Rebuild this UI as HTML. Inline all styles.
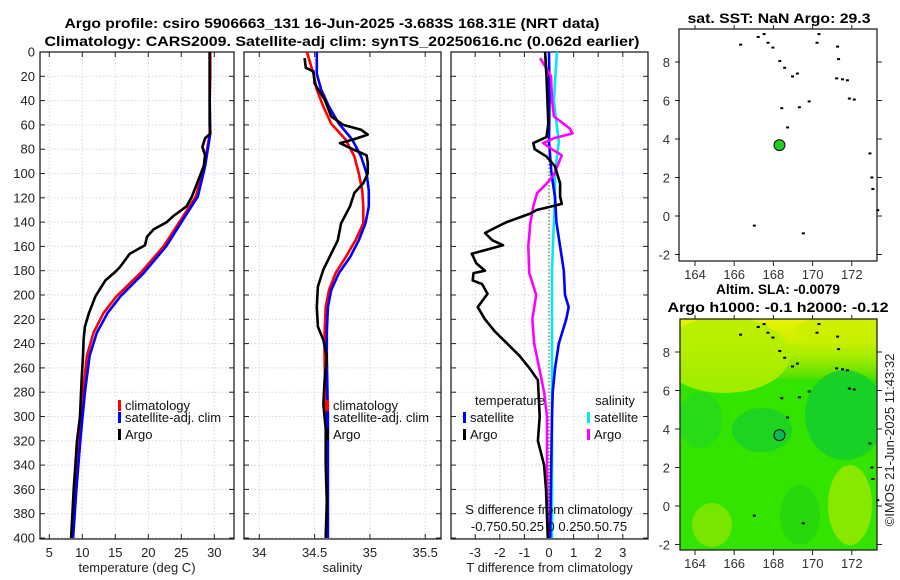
<!DOCTYPE html>
<html><head><meta charset="utf-8"><style>
html,body{margin:0;padding:0;background:#fff;}
svg{display:block;font-family:"Liberation Sans","DejaVu Sans",sans-serif;}
</style></head><body>
<svg id="fig" width="900" height="580" viewBox="0 0 900 580" xmlns="http://www.w3.org/2000/svg">
<defs>
<clipPath id="c1"><rect x="40" y="52" width="194" height="487"/></clipPath>
<clipPath id="c2"><rect x="244" y="52" width="197" height="487"/></clipPath>
<clipPath id="c3"><rect x="451" y="52" width="197" height="487"/></clipPath>
<clipPath id="cm2"><rect x="680" y="319" width="197" height="231"/></clipPath>
<linearGradient id="topg" x1="0" y1="0" x2="0" y2="1">
<stop offset="0" stop-color="#e8f200"/><stop offset="0.35" stop-color="#cdf000"/><stop offset="0.7" stop-color="#98ea00"/><stop offset="1" stop-color="#4ee000"/>
</linearGradient>
</defs>
<g font-weight="bold" font-size="14" text-anchor="middle" fill="#000">
<text x="332" y="28" textLength="535" lengthAdjust="spacingAndGlyphs">Argo profile: csiro 5906663_131 16-Jun-2025 -3.683S 168.31E (NRT data)</text>
<text x="342" y="46" textLength="595" lengthAdjust="spacingAndGlyphs">Climatology: CARS2009. Satellite-adj clim: synTS_20250616.nc (0.062d earlier)</text>
</g>
<g id="panels"></g>
<g id="maps"></g>
<text transform="translate(894,440) rotate(-90)" text-anchor="middle" font-size="13" fill="#222">©IMOS 21-Jun-2025 11:43:32</text>
</svg>
<script>
// ---- data ----
const depthTicks=[0,20,40,60,80,100,120,140,160,180,200,220,240,260,280,300,320,340,360,380,400];
const tTicks=[5,10,15,20,25,30];
const sTicks=[34,34.5,35,35.5];
const dTicks=[-3,-2,-1,0,1,2,3];
const tDepth=[0,20,40,60,67,71,78,85,94,105,119,127,131,135,140,146,152,159,166,177,181,188,201,215,226,237,250,270,300,320,360,400];
const tArgo=[29.3,29.3,29.3,29.3,29.4,28.6,28.2,28.6,28.4,27.6,26.6,25.8,24.8,23.8,22.8,20.8,19.8,19.5,17.2,15.7,15.0,13.5,12.0,11.0,10.4,10.2,10.1,9.9,9.65,9.2,8.7,8.3];
const climDepth=[0,20,40,67,94,119,135,160,182,201,215,231,250,280,320,360,400];
const tClim=[29.4,29.4,29.3,29.3,28.5,27.2,25.3,22.3,18.8,15.2,13.2,11.7,10.7,10.1,9.5,9.0,8.4];
const tSat=[29.3,29.3,29.3,29.4,28.6,27.5,25.6,22.7,19.3,15.8,13.8,12.2,11.1,10.4,9.7,9.1,8.6];
const sDepth=[5,13,16,26,39,53,60,64,68,72,75,79,85,91,100,108,116,127,141,155,166,179,193,210,226,237,251,270,290,310,340,370,400];
const sArgo=[34.41,34.42,34.49,34.5,34.59,34.65,34.76,34.92,34.98,34.85,34.73,34.82,34.97,34.98,34.98,34.94,34.86,34.82,34.74,34.71,34.65,34.58,34.53,34.52,34.53,34.58,34.61,34.59,34.58,34.6,34.6,34.61,34.6];
const scDepth=[0,18,31,45,59,72,86,100,114,127,141,155,169,182,196,210,231,251,300,350,400];
const sClim=[34.43,34.49,34.52,34.58,34.65,34.78,34.86,34.9,34.93,34.94,34.94,34.87,34.78,34.69,34.63,34.6,34.59,34.59,34.6,34.61,34.61];
const sSat=[34.52,34.52,34.56,34.63,34.72,34.84,34.92,34.97,34.99,34.99,34.96,34.9,34.82,34.72,34.65,34.62,34.61,34.61,34.62,34.62,34.62];
const dDepth=[0,20,59,70,75,80,86,94,108,119,125,130,133,140,144,149,155,159,166,174,180,182,188,191,199,210,220,230,240,250,260,270,300,320,340,360,400];
const dtArgo=[-0.16,-0.1,-0.03,-0.1,-0.64,-0.58,-0.1,0.24,0.45,0.45,0.52,-0.5,-0.77,-1.72,-2.13,-2.6,-2.3,-1.87,-3.14,-2.95,-2.6,-3.07,-3.1,-2.72,-2.5,-2.9,-2.6,-2.2,-1.7,-1.2,-0.8,-0.45,-0.38,-0.45,-0.2,-0.12,-0.05];
const dsDepth=[0,40,74,100,120,140,160,180,200,210,220,240,260,280,300,350,400];
const dtSat=[0.0,0.02,0.0,0.1,0.25,0.3,0.45,0.6,0.65,0.8,0.7,0.4,0.25,0.15,0.12,0.08,0.05];
const dsSat=[0.08,0.05,0.1,0.06,0.06,0.05,0.04,0.03,0.03,0.03,0.03,0.03,0.03,0.03,0.03,0.03,0.03];
const mDepth=[5,20,39,53,63,67,71,75,80,85,91,101,108,116,127,141,160,182,200,220,240,260,280,300,340,400];
const dsArgo=[-0.09,0.02,0.03,0.05,0.21,0.24,0.05,-0.06,0.03,0.13,0.1,0.05,-0.02,-0.12,-0.16,-0.19,-0.21,-0.2,-0.13,-0.17,-0.15,-0.1,-0.05,-0.02,-0.02,-0.01];
const lonTicks=[164,166,168,170,172];
const latTicks=[-2,0,2,4,6,8];
const argoLon=168.31, argoLat=3.683;

// ---- scales ----
const NS='http://www.w3.org/2000/svg';
const yD=d=>52+d*1.215;
const xT=t=>49.3+(t-5)*6.6;
const xS=s=>259.3+(s-34)*110.6;
const xDT=d=>549+d*24.6;
const xDS=d=>549+d*98.4;
const xLon=l=>695+(l-164)*19.6;
const yLat1=l=>216-l*19.25;
const yLat2=l=>506-l*19.25;

function el(tag,attrs,parent){const e=document.createElementNS(NS,tag);for(const k in attrs)e.setAttribute(k,attrs[k]);parent.appendChild(e);return e;}
function txt(parent,x,y,s,size,anchor,fill){const t=el('text',{x:x,y:y,'font-size':size,'text-anchor':anchor||'middle',fill:fill||'#222'},parent);t.textContent=s;return t;}

const panels=document.getElementById('panels');
function panel(name,x0,x1,xticks,xf,labels,xlabel,clip){
  const g=el('g',{},panels);
  
  
  xticks.forEach(v=>{const x=xf(v);const l=el('line',{x1:x,x2:x,y1:52,y2:539,stroke:'#d2d6ec','stroke-width':1,'stroke-dasharray':'1.5,2'},g);
    });
  depthTicks.forEach(d=>{const y=yD(d);const l=el('line',{x1:x0,x2:x1,y1:y,y2:y,stroke:'#d2d6ec','stroke-width':1,'stroke-dasharray':'1.5,2'},g);
    });
  xticks.forEach((v,i)=>{const x=xf(v);
    el('line',{x1:x,x2:x,y1:539,y2:534,stroke:'#222'},g);el('line',{x1:x,x2:x,y1:52,y2:57,stroke:'#222'},g);
    if(labels){const t=txt(g,x,557,labels[i],13);}});
  depthTicks.forEach(d=>{const y=yD(d);el('line',{x1:x0,x2:x0+5,y1:y,y2:y,stroke:'#222'},g);el('line',{x1:x1,x2:x1-5,y1:y,y2:y,stroke:'#222'},g);});
  const b=el('rect',{x:x0,y:52,width:x1-x0,height:487,fill:'none',stroke:'#222','stroke-width':1.3},g);
  
  const xl=txt(g,(x0+x1)/2,572,xlabel,13);
  
  const lg=el('g',{'clip-path':'url(#'+clip+')'},g);
  return lg;
}
function line(parent,xs,ds,xf,color,name,w){
  const pts=xs.map((v,i)=>xf(v).toFixed(1)+','+yD(ds[i]).toFixed(1)).join(' ');
  const p=el('polyline',{points:pts,fill:'none',stroke:color,'stroke-width':w||2.6,'stroke-linejoin':'round'},parent);
  
  
  return p;
}
function legend(parent,x,y,color,label){
  const g=el('g',{},parent);
  
  
  el('rect',{x:x,y:y-10,width:3,height:11,fill:color},g);
  txt(g,x+7,y,label,13,'start','#111');
}

// panel 1
const g1=panel('temperature-panel',40,234,tTicks,xT,tTicks.map(String),'temperature (deg C)','c1');
const p1=g1.parentNode;
depthTicks.forEach(d=>{const t=txt(p1,35,yD(d)+4.5,String(d),13,'end');});
line(g1,tClim,climDepth,xT,'#f00','temp-climatology-line');
line(g1,tSat,climDepth,xT,'#0000ff','temp-satellite-line');
line(g1,tArgo,tDepth,xT,'#000','temp-argo-line');
legend(p1,118,410,'#f00','climatology');
legend(p1,118,422,'#00f','satellite-adj. clim');
legend(p1,118,439,'#000','Argo');

// panel 2
const g2=panel('salinity-panel',244,441,sTicks,xS,sTicks.map(String),'salinity','c2');
const p2=g2.parentNode;
line(g2,sClim,scDepth,xS,'#f00','sal-climatology-line');
line(g2,sSat,scDepth,xS,'#0000ff','sal-satellite-line');
line(g2,sArgo,sDepth,xS,'#000','sal-argo-line');
legend(p2,326,410,'#f00','climatology');
legend(p2,326,422,'#00f','satellite-adj. clim');
legend(p2,326,439,'#000','Argo');

// panel 3
const g3=panel('difference-panel',451,648,dTicks,xDT,dTicks.map(String),'T difference from climatology','c3');
const p3=g3.parentNode;
const z=el('line',{x1:549,x2:549,y1:52,y2:539,stroke:'#556b2f','stroke-width':1.2,'stroke-dasharray':'1.5,2'},g3);

line(g3,dsSat,dsDepth,xDS,'#00e8f0','sal-diff-satellite-line');
line(g3,dtSat,dsDepth,xDT,'#0000ff','temp-diff-satellite-line');
line(g3,dsArgo,mDepth,xDS,'#ff00ff','sal-diff-argo-line');
line(g3,dtArgo,dDepth,xDT,'#000','temp-diff-argo-line');
txt(p3,510,405,'temperature',13,'middle','#111');
txt(p3,615,405,'salinity',13,'middle','#111');
legend(p3,463,422,'#00f','satellite');
legend(p3,463,439,'#000','Argo');
legend(p3,587,422,'#00e8f0','satellite');
legend(p3,587,439,'#ff00ff','Argo');
const st=txt(p3,549,514,'S difference from climatology',13,'middle','#111');

const sl=txt(p3,549,531,'-0.750.50.25 0  0.250.50.75',13,'middle','#111');


// maps
const maps=document.getElementById('maps');
const coast=[[167.2,9.3],[167.5,9.45],[167.7,9.0],[167.95,8.75],[168.3,8.05],[168.55,7.7],[168.95,7.25],[169.2,7.4],[168.4,5.6],[169.3,5.65],[169.8,5.95],[170.2,9.0],[170.3,9.45],[171.25,8.8],[171.3,8.15],[171.2,7.15],[171.5,7.1],[171.75,7.05],[171.85,6.1],[172.1,6.05],[172.9,3.25],[173.0,2.0],[173.05,1.4],[173.3,0.3],[167.0,-0.5],[169.5,-0.9],[168.7,4.6],[166.3,8.9]];
function mapAxes(g,yf,y0,y1){
  lonTicks.forEach(l=>{const x=xLon(l);el('line',{x1:x,x2:x,y1:y1,y2:y1+5,stroke:'#222'},g);el('line',{x1:x,x2:x,y1:y0,y2:y0-4,stroke:'#222'},g);
    const t=txt(g,x,y1+18,String(l),13,'middle','#333');});
  latTicks.forEach(l=>{const y=yf(l);el('line',{x1:675,x2:680,y1:y,y2:y,stroke:'#222'},g);el('line',{x1:877,x2:882,y1:y,y2:y,stroke:'#222'},g);
    const t=txt(g,670,y+5,String(l),13,'end','#333');});
  coast.forEach(c=>{const r=el('rect',{x:xLon(c[0])-1,y:yf(c[1])-1,width:3,height:2,fill:'#000'},g);
    });
}
// map 1
const m1=el('g',{},maps);


el('rect',{x:679,y:29,width:198,height:232,fill:'#fff',stroke:'#222','stroke-width':1.3},m1);
const t1=txt(m1,779,23,'sat. SST: NaN Argo: 29.3',13.5,'middle','#000');
t1.setAttribute('font-weight','bold');t1.setAttribute('textLength','183');t1.setAttribute('lengthAdjust','spacingAndGlyphs');
mapAxes(m1,yLat1,29,261);
const d1=el('circle',{cx:xLon(argoLon),cy:yLat1(argoLat),r:5.5,fill:'#22cc22',stroke:'#111','stroke-width':1},m1);


// map 2
const m2=el('g',{},maps);


const fld=el('g',{'clip-path':'url(#cm2)'},m2);


el('rect',{x:680,y:319,width:197,height:231,fill:'#33e400'},fld);
el('rect',{x:680,y:319,width:197,height:60,fill:'url(#topg)'},fld);
el('ellipse',{cx:725,cy:355,rx:65,ry:38,fill:'#b4ee00','fill-opacity':0.85},fld);
el('ellipse',{cx:845,cy:330,rx:50,ry:14,fill:'#c8f000','fill-opacity':0.8},fld);
el('ellipse',{cx:845,cy:415,rx:40,ry:45,fill:'#10cc30','fill-opacity':0.8},fld);
el('ellipse',{cx:762,cy:430,rx:30,ry:22,fill:'#18d028','fill-opacity':0.8},fld);
el('ellipse',{cx:700,cy:420,rx:22,ry:28,fill:'#22d820','fill-opacity':0.7},fld);
el('ellipse',{cx:850,cy:505,rx:22,ry:40,fill:'#88e800'},fld);
el('ellipse',{cx:712,cy:525,rx:20,ry:22,fill:'#77e600'},fld);
el('ellipse',{cx:800,cy:515,rx:20,ry:30,fill:'#22d410','fill-opacity':0.7},fld);
el('rect',{x:680,y:319,width:197,height:231,fill:'none',stroke:'#222','stroke-width':1.3},m2);
const t2a=txt(m2,778,294,'Altim. SLA: -0.0079',13.5,'middle','#000');
t2a.setAttribute('font-weight','bold');t2a.setAttribute('textLength','124');t2a.setAttribute('lengthAdjust','spacingAndGlyphs');
const t2b=txt(m2,778,312,'Argo h1000: -0.1 h2000: -0.12',13.5,'middle','#000');
t2b.setAttribute('font-weight','bold');t2b.setAttribute('textLength','221');t2b.setAttribute('lengthAdjust','spacingAndGlyphs');
mapAxes(m2,yLat2,319,550);
const d2=el('circle',{cx:xLon(argoLon),cy:yLat2(argoLat),r:5.5,fill:'#10b850',stroke:'#111','stroke-width':1},m2);

</script>
</body></html>
